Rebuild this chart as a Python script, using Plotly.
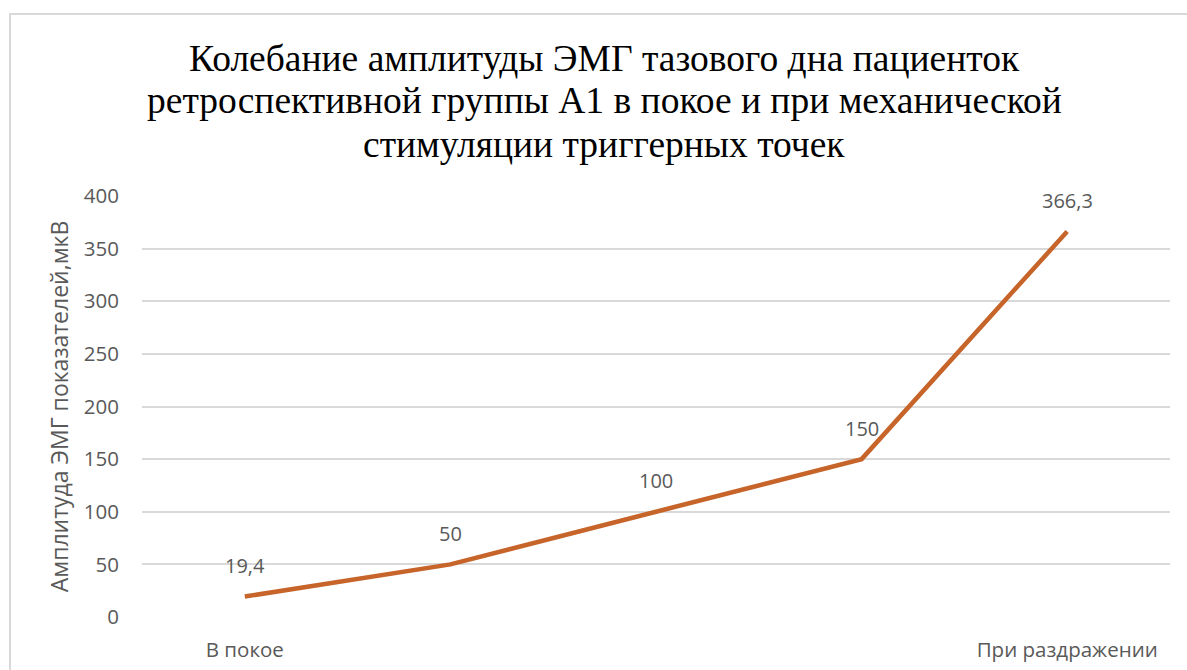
import plotly.graph_objects as go

# Stages of measurement along the horizontal axis
stages = ["В покое", "", "", "", "При раздражении"]
positions = [0, 1, 2, 3, 4]
# EMG amplitude, µV
amplitude = [19.4, 50, 100, 150, 366.3]

title_lines = [
    "Колебание амплитуды ЭМГ тазового дна пациенток",
    "ретроспективной группы А1 в покое и при механической",
    "стимуляции триггерных точек",
]
y_title = "Амплитуда ЭМГ показателей,мкВ"

line_color = "#C6642A"
grid_color = "#D9D9D9"
text_gray = "#595959"
label_font = "Open Sans"

# Plot-area geometry in pixels
W, H = 1187, 670
L, R, T, B = 142, 17, 196, 53
plot_w = W - L - R
plot_h = H - T - B

def px_x(px):
    return (px - L) / plot_w

def px_y(py):
    return (H - B - py) / plot_h

fig = go.Figure()
fig.add_trace(go.Scatter(
    x=positions, y=amplitude, mode="lines",
    line=dict(color=line_color, width=4.5),
    hoverinfo="skip", showlegend=False,
))

def fmt(v):
    return f"{v:g}".replace(".", ",")

for xi, v in zip(positions, amplitude):
    fig.add_annotation(
        x=xi, y=v, text=fmt(v), showarrow=False, yshift=31,
        font=dict(family=label_font, size=20, color=text_gray),
    )

# Title, one line per annotation for tight line spacing
for i, line in enumerate(title_lines):
    fig.add_annotation(
        xref="paper", yref="paper", x=px_x(604), y=px_y(58 + 43 * i),
        text=line, showarrow=False, xanchor="center", yanchor="middle",
        font=dict(family="Liberation Serif", size=37.5, color="black"),
    )

# Outer chart frame
fig.add_shape(type="rect", xref="paper", yref="paper",
              x0=px_x(10), x1=px_x(1200), y0=px_y(690), y1=px_y(14),
              line=dict(color=grid_color, width=2), layer="below")

fig.update_layout(
    width=W, height=H,
    margin=dict(l=L, r=R, t=T, b=B, autoexpand=False),
    paper_bgcolor="white", plot_bgcolor="white",
    xaxis=dict(
        range=[-0.5, 4.5], tickmode="array", tickvals=positions, ticktext=stages,
        showgrid=False, zeroline=False, showline=False, ticks="",
        tickfont=dict(family=label_font, size=20.5, color=text_gray),
        ticklabelstandoff=18, automargin=False,
    ),
    yaxis=dict(
        range=[0, 400], tickmode="linear", tick0=0, dtick=50,
        showgrid=True, gridcolor=grid_color, gridwidth=1.5,
        zeroline=False, showline=False, ticks="",
        tickfont=dict(family=label_font, size=20.5, color=text_gray),
        ticklabelstandoff=22, automargin=False,
        title=dict(text=y_title, standoff=8,
                   font=dict(family=label_font, size=23, color=text_gray)),
    ),
)

fig.write_html("out.html")
